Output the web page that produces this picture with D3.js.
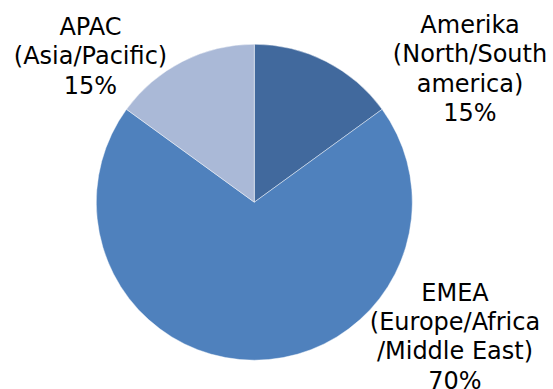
<!DOCTYPE html>
<html>
<head>
<meta charset="utf-8">
<script src="https://cdn.jsdelivr.net/npm/d3@7"></script>
<style>
  html, body { margin: 0; padding: 0; background: #fff; }
  svg { display: block; }
  text { font-family: "DejaVu Sans", Verdana, sans-serif; font-size: 24px; fill: #000; }
</style>
</head>
<body>
<svg id="chart" width="553" height="389"></svg>
<script>
// Regional share of the business
const regions = ["Amerika", "EMEA", "APAC"];
const regionNames = ["(North/South america)", "(Europe/Africa /Middle East)", "(Asia/Pacific)"];
const labelLines = [
  ["Amerika", "(North/South", "america)"],
  ["EMEA", "(Europe/Africa", "/Middle East)"],
  ["APAC", "(Asia/Pacific)"]
];
const shares = [15, 70, 15];
const sliceColors = ["#41699d", "#4f81bd", "#aab9d7"];

// Layout
const width = 553, height = 389;
const cx = 254.3, cy = 202.2, radius = 158;
const lineHeight = 29.4;
// label anchor: centre x and first baseline for each slice's label
const labelAnchors = [
  { x: 470, y: 33 },
  { x: 455, y: 300.5 },
  { x: 90.5, y: 35 }
];

const svg = d3.select("#chart");
const g = svg.append("g").attr("transform", `translate(${cx},${cy})`);

const pie = d3.pie().sort(null).value(d => d.value);
const arc = d3.arc().innerRadius(0).outerRadius(radius);

const data = regions.map((r, i) => ({ region: r, value: shares[i], lines: labelLines[i], color: sliceColors[i] }));
const arcs = pie(data);

g.selectAll("path.slice")
  .data(arcs)
  .join("path")
  .attr("class", "slice")
  .attr("d", arc)
  .attr("fill", d => d.data.color)
  .attr("stroke", "#ffffff")
  .attr("stroke-opacity", 0.55)
  .attr("stroke-width", 0.8)
  .attr("stroke-linejoin", "round");

const labels = svg.selectAll("text.label")
  .data(arcs)
  .join("text")
  .attr("class", "label")
  .attr("text-anchor", "middle");

labels.each(function(d, i) {
  const t = d3.select(this);
  const a = labelAnchors[i];
  const lines = d.data.lines.concat([d3.format(".0f")(d.data.value) + "%"]);
  lines.forEach((line, j) => {
    t.append("tspan")
      .attr("x", a.x)
      .attr("y", a.y + j * lineHeight)
      .text(line);
  });
});
</script>
</body>
</html>
